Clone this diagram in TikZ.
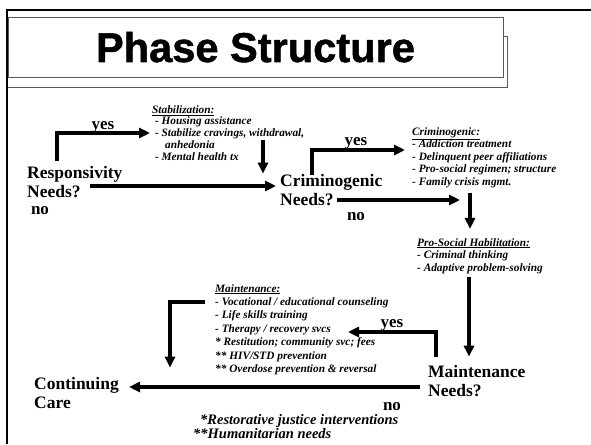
\documentclass[tikz,border=0pt]{standalone}
\usepackage{fontspec}
\setmainfont{Liberation Serif}
\newfontfamily\titlefont[BoldFeatures={FakeBold=1.2}]{Liberation Sans}
\usetikzlibrary{arrows.meta}

\tikzset{
  need/.style={anchor=base west,align=left,inner sep=0pt,font=\fontsize{17.5}{19.5}\selectfont\bfseries},
  lbl/.style={anchor=base,inner sep=0pt,font=\fontsize{17}{19}\selectfont\bfseries},
  items/.style={anchor=base west,align=left,inner sep=0pt,font=\fontsize{11.3}{#1}\selectfont\bfseries\itshape},
  items/.default=12.5,
  note/.style={anchor=base west,inner sep=0pt,font=\fontsize{14.5}{16}\selectfont\bfseries\itshape},
  flow/.style={line width=3.3pt,-{Triangle[length=11pt,width=10pt]}},
}

\begin{document}
\begin{tikzpicture}[x=1pt,y=-1pt]
\useasboundingbox (0,0) rectangle (591,444);
% frame and title
\draw[line width=2.5pt] (591,10) -- (7,10) -- (7,444);
\draw[gray!70!black,line width=1pt] (8,18) rectangle (503,77);
\draw[gray!70!black,line width=1pt] (8,87) -- (507,87) -- (507,37) -- (503,37);
\node[anchor=base,inner sep=0pt,font=\titlefont\bfseries\fontsize{41.6}{44}\selectfont] (title) at (255.5,62) {Phase Structure};

% decision points (anchored on last line)
\node[need] (resp) at (27,197.5) {Responsivity\\Needs?};
\node[need] (crim) at (280,205.5) {Criminogenic\\Needs?};
\node[need] (maint) at (428,396.5) {Maintenance\\Needs?};
\node[need] (cont) at (34,408.5) {Continuing\\Care};

% service lists
\node[items=11.7] (stab) at (152,160) {\underline{Stabilization:}\\\ - Housing assistance\\\ - Stabilize cravings, withdrawal,\\\hspace*{13pt}anhedonia\\\ - Mental health tx};
\node[items] (crimlist) at (412,185) {\underline{Criminogenic:}\\- Addiction treatment\\- Delinquent peer affiliations\\- Pro-social regimen; structure\\- Family crisis mgmt.};
\node[items] (prosoc) at (417,271) {\underline{Pro-Social Habilitation:}\\- Criminal thinking\\- Adaptive problem-solving};
\node[items=13.4] (mlist) at (215,372.4) {\underline{Maintenance:}\\- Vocational / educational counseling\\- Life skills training\\- Therapy / recovery svcs\\* Restitution; community svc; fees\\** HIV/STD prevention\\** Overdose prevention \& reversal};
\node[note] (fn1) at (200,424) {*Restorative justice interventions};
\node[note] (fn2) at (193,438) {**Humanitarian needs};

% yes / no
\node[lbl] (yes1) at (103,129) {yes};
\node[lbl] (no1) at (40,214) {no};
\node[lbl] (yes2) at (356,145) {yes};
\node[lbl] (no2) at (356,220) {no};
\node[lbl] (yes3) at (392,327) {yes};
\node[lbl] (no3) at (392,410) {no};

% connectors
\coordinate (respno) at (90,186);
\coordinate (respup) at (57,161);
\coordinate (stabdown) at (263,140);
\coordinate (crimup) at (312,175);
\coordinate (crimno) at (337,200);
\coordinate (crimend) at (460,200);
\coordinate (maintup) at (436,357);
\coordinate (myes) at (348,332);
\draw[flow,shorten >=4pt] (respno) -- (crim.west |- respno);
\draw[flow,shorten >=2pt] (respup) |- (stab.west |- 0,133);
\draw[flow] (stabdown) -- (stabdown |- crim.north);
\draw[flow,shorten >=7pt] (crimup) |- (crimlist.west |- 0,150);
\draw[flow] (crimno) -- (crimend);
\draw[flow,shorten <=5pt,shorten >=9pt] (crimlist.south -| 470,0) -- (prosoc.north -| 470,0);
\draw[flow,shorten <=3pt,shorten >=8pt] (prosoc.south -| 469,0) -- (maint.north -| 469,0);
\draw[flow] (maintup) |- (myes);
\draw[flow,shorten <=8pt,shorten >=10pt] (maint.west |- 0,387) -- (cont.east |- 0,387);
\draw[flow,shorten <=10pt,shorten >=9pt] (mlist.west |- 0,302) -| (cont.north -| 170,0);
\end{tikzpicture}
\end{document}
